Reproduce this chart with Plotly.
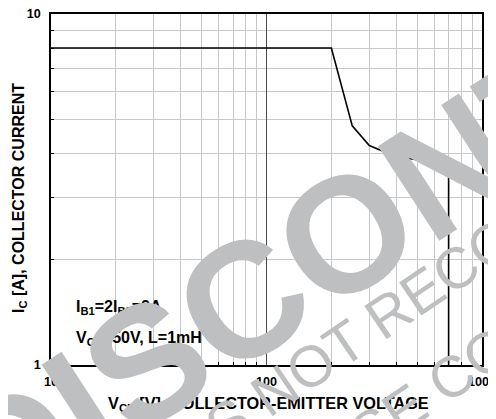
import plotly.graph_objects as go

# Curve data
vce = [10, 200, 250, 300, 400, 510, 700, 700]
ic = [8.0, 8.0, 4.8, 4.22, 3.92, 3.84, 3.82, 1.0]

x_major = [10, 100, 1000]
x_major_text = ["10", "100", "1000"]
y_major = [1, 10]
y_major_text = ["1", "10"]
x_minor = [20, 30, 40, 50, 60, 70, 80, 90, 200, 300, 400, 500, 600, 700, 800, 900]
y_minor = [2, 3, 4, 5, 6, 7, 8, 9]

FONT = "Liberation Sans, Arial, sans-serif"
WM = "#bdbfc1"

W, H = 496, 419
PAGE = 8  # default page margin of the browser body
# plot area in screen pixels
SX0, SX1, SY0, SY1 = 51, 482, 14, 365
L, T = SX0 - PAGE, SY0 - PAGE
R, B = W - (SX1 - PAGE), H - (SY1 - PAGE)
PW, PH = SX1 - SX0, SY1 - SY0


def px(xs):
    return (xs - SX0) / PW


def py(ys):
    return (SY1 - ys) / PH


fig = go.Figure()
fig.add_trace(go.Scatter(x=vce, y=ic, mode="lines",
                         line=dict(color="black", width=1.6),
                         hoverinfo="skip", showlegend=False))

axis_common = dict(
    type="log", showline=True, mirror=True, linecolor="black", linewidth=1.6,
    ticks="", zeroline=False, tickmode="array", automargin=False,
    ticklabeloverflow="allow",
    tickfont=dict(family=FONT, size=12.6, color="black"),
)

fig.update_xaxes(
    **axis_common, range=[1, 3],
    tickvals=x_major, ticktext=["<b>%s</b>" % t for t in x_major_text],
    showgrid=True, gridcolor="#4a4a4a", gridwidth=1,
    ticklabelstandoff=4,
    minor=dict(tickvals=x_minor, showgrid=True, gridcolor="#c8c8c8", gridwidth=1.3,
               ticks="inside", ticklen=3, tickcolor="black", tickwidth=1),
)
fig.update_yaxes(
    **axis_common, range=[0, 1],
    tickvals=y_major, ticktext=["<b>%s</b>" % t for t in y_major_text],
    showgrid=False,
    ticklabelstandoff=6,
    minor=dict(tickvals=y_minor, showgrid=True, gridcolor="#c8c8c8", gridwidth=1.3,
               ticks="inside", ticklen=3, tickcolor="black", tickwidth=1),
)

annotations = [
    # axis titles
    dict(text="<b>I<sub>C</sub> [A], COLLECTOR CURRENT</b>", x=px(19), y=py(198),
         textangle=-90, font=dict(family=FONT, size=16, color="black")),
    dict(text="<b>V<sub>CE</sub> [V], COLLECTOR-EMITTER VOLTAGE</b>", x=px(268), y=py(404),
         font=dict(family=FONT, size=16.3, color="black")),
    # conditions
    dict(text="<b>I<sub>B1</sub>=2I<sub>B2</sub>=2A</b>", x=px(74), y=py(307), xanchor="left",
         font=dict(family=FONT, size=16, color="black")),
    dict(text="<b>V<sub>CC</sub>=50V, L=1mH</b>", x=px(74), y=py(338), xanchor="left",
         font=dict(family=FONT, size=16, color="black")),
    # watermark
    dict(text="<b>DISCONTINUED</b>", x=px(487), y=py(142), textangle=-33,
         font=dict(family=FONT, size=164, color=WM)),
    dict(text="PRODUCT IS NOT RECOMMENDED FOR NEW DESIGNS", x=px(588), y=py(178), textangle=-34,
         font=dict(family=FONT, size=58, color=WM)),
    dict(text="PLEASE CONTACT SALES OFFICE", x=px(626), y=py(258), textangle=-34,
         font=dict(family=FONT, size=58, color=WM)),
]
for a in annotations:
    a.setdefault("xanchor", "center")
    a.update(xref="paper", yref="paper", showarrow=False, yanchor="middle")
fig.update_layout(annotations=annotations)

fig.update_layout(
    width=W, height=H,
    margin=dict(l=L, r=R, t=T, b=B, autoexpand=False),
    paper_bgcolor="white", plot_bgcolor="white",
    showlegend=False,
)

fig.write_html("out.html")
